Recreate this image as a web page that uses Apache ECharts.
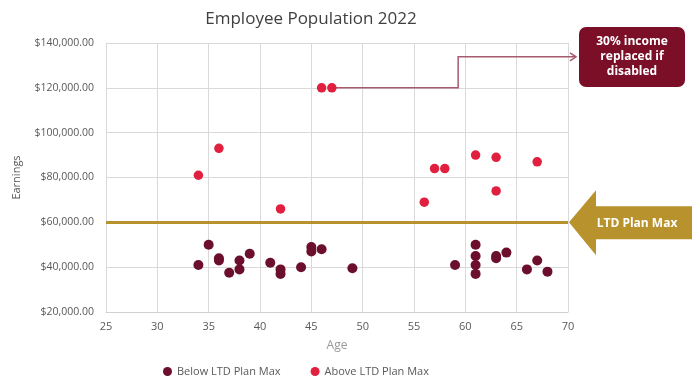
<!DOCTYPE html>
<html>
<head>
<meta charset="utf-8">
<script src="https://cdn.jsdelivr.net/npm/echarts@6/dist/echarts.min.js"></script>
<style>
  html, body { margin: 0; padding: 0; background: #fff; }
  #chart { width: 698px; height: 379px; }
</style>
</head>
<body>
<div id="chart"></div>
<script>
const FONT = "'Open Sans', 'DejaVu Sans', sans-serif";

// below plan max: [age, earnings]
const belowAges = [34, 35, 36, 36, 37, 38, 38, 39, 41, 42, 42, 44, 45, 45, 46, 49, 59, 61, 61, 61, 61, 63, 63, 64, 66, 67, 68];
const belowEarnings = [41000, 50000, 44000, 43000, 37500, 43000, 39000, 46000, 42000, 39000, 37000, 40000, 49000, 47000, 48000, 39500, 41000, 50000, 45000, 41000, 37000, 45000, 44000, 46500, 39000, 43000, 38000];

const aboveAges = [34, 36, 42, 46, 47, 56, 57, 58, 61, 63, 63, 67];
const aboveEarnings = [81000, 93000, 66000, 120000, 120000, 69000, 84000, 84000, 90000, 89000, 74000, 87000];

const planMax = 60000;
const xTicks = [25, 70, 5];
const yTicks = [20000, 140000, 20000];
const calloutFrom = [47, 120000];

const toPairs = (xs, ys) => xs.map((x, i) => [x, ys[i]]);
const money = (v) => '$' + v.toLocaleString('en-US', { minimumFractionDigits: 2, maximumFractionDigits: 2 });

const chart = echarts.init(document.getElementById('chart'));

chart.setOption({
  animation: false,
  backgroundColor: '#fff',
  textStyle: { fontFamily: FONT },
  title: {
    text: 'Employee Population 2022',
    left: 306,
    textAlign: 'center',
    top: 6,
    textStyle: { fontFamily: FONT, fontSize: 17, fontWeight: 'normal', color: '#404040' },
  },
  grid: { left: 106, right: 130, top: 43, bottom: 67 },
  xAxis: {
    type: 'value',
    min: xTicks[0],
    max: xTicks[1],
    interval: xTicks[2],
    name: 'Age',
    nameLocation: 'middle',
    nameGap: 28,
    nameTextStyle: { color: '#9a9a9a', fontSize: 12 },
    axisLine: { show: true, lineStyle: { color: '#d0d0d0' } },
    axisTick: { show: false },
    axisLabel: { color: '#595959', fontSize: 11, margin: 9 },
    splitLine: { show: true, lineStyle: { color: '#d9d9d9', width: 1 } },
  },
  yAxis: {
    type: 'value',
    min: yTicks[0],
    max: yTicks[1],
    interval: yTicks[2],
    name: 'Earnings',
    nameLocation: 'middle',
    nameGap: 84,
    nameTextStyle: { color: '#595959', fontSize: 11 },
    axisLine: { show: true, lineStyle: { color: '#d9d9d9' } },
    axisTick: { show: false },
    axisLabel: { color: '#595959', fontSize: 10.5, margin: 12, formatter: money },
    splitLine: { show: true, lineStyle: { color: '#d9d9d9', width: 1 } },
  },
  legend: {
    bottom: -3,
    left: 158,
    itemGap: 30,
    itemWidth: 9,
    itemHeight: 9,
    icon: 'circle',
    textStyle: { color: '#595959', fontSize: 11, fontFamily: FONT },
    data: ['Below LTD Plan Max', 'Above LTD Plan Max'],
  },
  series: [
    {
      name: 'Below LTD Plan Max',
      type: 'scatter',
      symbolSize: 10,
      itemStyle: { color: '#6b0f2d', opacity: 1 },
      data: toPairs(belowAges, belowEarnings),
      z: 4,
    },
    {
      name: 'Above LTD Plan Max',
      type: 'scatter',
      symbolSize: 9.5,
      itemStyle: { color: '#e11f3f', opacity: 1 },
      data: toPairs(aboveAges, aboveEarnings),
      z: 4,
      markLine: {
        silent: true,
        symbol: 'none',
        label: { show: false },
        lineStyle: { color: '#b8922d', width: 3, type: 'solid' },
        data: [{ yAxis: planMax }],
        z: 3,
      },
    },
  ],
});

// callouts, positioned through the axes
const [x70, y60] = chart.convertToPixel({ gridIndex: 0 }, [xTicks[1], planMax]);
const [px, py] = chart.convertToPixel({ gridIndex: 0 }, calloutFrom);
const elbowX = chart.convertToPixel({ xAxisIndex: 0 }, 59.3);
const topY = py - 31;
const boxX = 579;

chart.setOption({
  graphic: [
    {
      type: 'polyline',
      z: 2,
      shape: { points: [[px + 4, py], [elbowX, py], [elbowX, topY], [boxX - 3, topY]] },
      style: { stroke: '#a55a6e', lineWidth: 1.5, fill: null },
    },
    {
      type: 'polyline',
      z: 2,
      shape: { points: [[boxX - 9, topY - 4], [boxX - 3, topY], [boxX - 9, topY + 4]] },
      style: { stroke: '#a55a6e', lineWidth: 1.5, fill: null },
    },
    {
      type: 'rect',
      shape: { x: boxX, y: 27, width: 106, height: 60, r: 7 },
      style: { fill: '#7b0f27' },
    },
    {
      type: 'text',
      x: boxX + 53,
      y: 57,
      style: {
        text: '30% income\nreplaced if\ndisabled',
        fill: '#fff',
        font: "bold 12px 'Open Sans', sans-serif",
        lineHeight: 15,
        align: 'center',
        verticalAlign: 'middle',
      },
    },
    {
      type: 'polygon',
      shape: {
        points: [
          [x70 + 1, y60],
          [x70 + 28, y60 - 32],
          [x70 + 28, y60 - 16],
          [692, y60 - 16],
          [692, y60 + 17],
          [x70 + 28, y60 + 17],
          [x70 + 28, y60 + 33],
        ],
      },
      style: { fill: '#b8922d' },
    },
    {
      type: 'text',
      x: 637,
      y: y60 + 1,
      style: {
        text: 'LTD Plan Max',
        fill: '#fff',
        font: "bold 12px 'Open Sans', sans-serif",
        align: 'center',
        verticalAlign: 'middle',
      },
    },
  ],
});
</script>
</body>
</html>
